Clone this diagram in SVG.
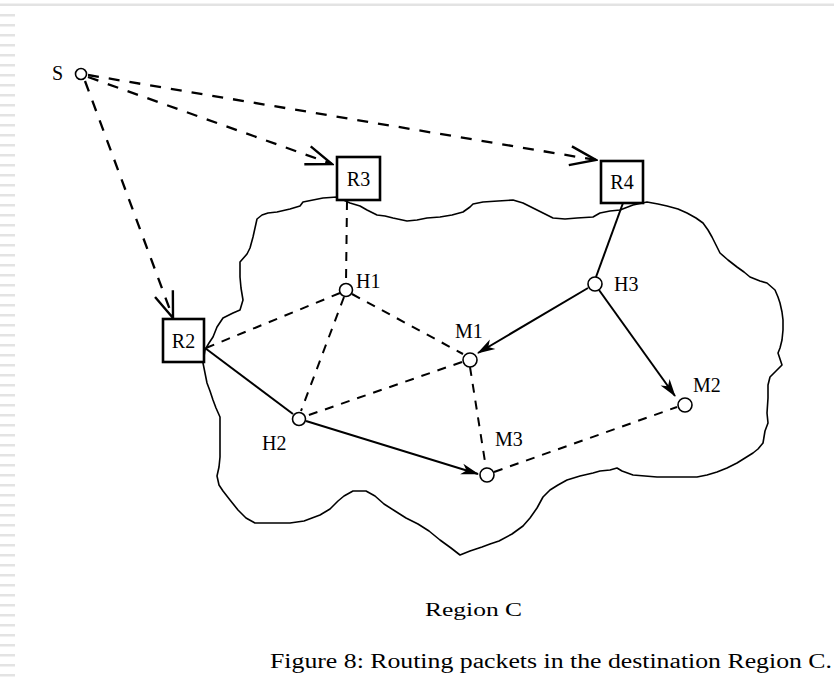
<svg xmlns="http://www.w3.org/2000/svg" width="834" height="681" viewBox="0 0 834 681">
<style>
  text { font-family: "Liberation Serif", "Times New Roman", serif; fill: #000; }
  .lbl { font-size: 20px; }
  .node { fill: #fff; stroke: #000; stroke-width: 1.6; }
  .box { fill: #fff; stroke: #000; stroke-width: 2.6; }
  .dash { fill: none; stroke: #000; stroke-width: 2; stroke-dasharray: 9 8; }
  .sdash { fill: none; stroke: #000; stroke-width: 2.3; stroke-dasharray: 11 10; }
  .solid { fill: none; stroke: #000; stroke-width: 2; }
  .outline { fill: none; stroke: #000; stroke-width: 1.6; stroke-linejoin: round; }
  .bar { fill: #e3e3e3; }
</style>
<defs>
  <marker id="open" viewBox="-30 -12 32 24" refX="0" refY="0" markerWidth="32" markerHeight="24" markerUnits="userSpaceOnUse" orient="auto">
    <path d="M-26,-9.5 L0,0 L-26,9.5" fill="none" stroke="#000" stroke-width="2.4" stroke-dasharray="none"/>
  </marker>
  <marker id="fill" viewBox="-20 -8 22 16" refX="0" refY="0" markerWidth="22" markerHeight="16" markerUnits="userSpaceOnUse" orient="auto">
    <path d="M1,0 L-17,-5.5 L-12,0 L-17,5.5 Z" fill="#000" stroke="none"/>
  </marker>
</defs>
<rect width="834" height="681" fill="#fff"/>
<g id="page-edge">
  <rect x="0" y="3.5" width="834" height="2.5" class="bar"/>
  <g class="bar">
    <rect x="0" y="14" width="15" height="2.5"/><rect x="0" y="24" width="15" height="2.5"/><rect x="0" y="34" width="15" height="2.5"/><rect x="0" y="44" width="15" height="2.5"/><rect x="0" y="54" width="15" height="2.5"/><rect x="0" y="64" width="15" height="2.5"/><rect x="0" y="74" width="15" height="2.5"/><rect x="0" y="84" width="15" height="2.5"/><rect x="0" y="94" width="15" height="2.5"/><rect x="0" y="104" width="15" height="2.5"/>
    <rect x="0" y="114" width="15" height="2.5"/><rect x="0" y="124" width="15" height="2.5"/><rect x="0" y="134" width="15" height="2.5"/><rect x="0" y="144" width="15" height="2.5"/><rect x="0" y="154" width="15" height="2.5"/><rect x="0" y="164" width="15" height="2.5"/><rect x="0" y="174" width="15" height="2.5"/><rect x="0" y="184" width="15" height="2.5"/><rect x="0" y="194" width="15" height="2.5"/><rect x="0" y="204" width="15" height="2.5"/>
    <rect x="0" y="214" width="15" height="2.5"/><rect x="0" y="224" width="15" height="2.5"/><rect x="0" y="234" width="15" height="2.5"/><rect x="0" y="244" width="15" height="2.5"/><rect x="0" y="254" width="15" height="2.5"/><rect x="0" y="264" width="15" height="2.5"/><rect x="0" y="274" width="15" height="2.5"/><rect x="0" y="284" width="15" height="2.5"/><rect x="0" y="294" width="15" height="2.5"/><rect x="0" y="304" width="15" height="2.5"/>
    <rect x="0" y="314" width="15" height="2.5"/><rect x="0" y="324" width="15" height="2.5"/><rect x="0" y="334" width="15" height="2.5"/><rect x="0" y="344" width="15" height="2.5"/><rect x="0" y="354" width="15" height="2.5"/><rect x="0" y="364" width="15" height="2.5"/><rect x="0" y="374" width="15" height="2.5"/><rect x="0" y="384" width="15" height="2.5"/><rect x="0" y="394" width="15" height="2.5"/><rect x="0" y="404" width="15" height="2.5"/>
    <rect x="0" y="414" width="15" height="2.5"/><rect x="0" y="424" width="15" height="2.5"/><rect x="0" y="434" width="15" height="2.5"/><rect x="0" y="444" width="15" height="2.5"/><rect x="0" y="454" width="15" height="2.5"/><rect x="0" y="464" width="15" height="2.5"/><rect x="0" y="474" width="15" height="2.5"/><rect x="0" y="484" width="15" height="2.5"/><rect x="0" y="494" width="15" height="2.5"/><rect x="0" y="504" width="15" height="2.5"/>
    <rect x="0" y="514" width="15" height="2.5"/><rect x="0" y="524" width="15" height="2.5"/><rect x="0" y="534" width="15" height="2.5"/><rect x="0" y="544" width="15" height="2.5"/><rect x="0" y="554" width="15" height="2.5"/><rect x="0" y="564" width="15" height="2.5"/><rect x="0" y="574" width="15" height="2.5"/><rect x="0" y="584" width="15" height="2.5"/><rect x="0" y="594" width="15" height="2.5"/><rect x="0" y="604" width="15" height="2.5"/>
    <rect x="0" y="614" width="15" height="2.5"/><rect x="0" y="624" width="15" height="2.5"/><rect x="0" y="634" width="15" height="2.5"/><rect x="0" y="644" width="15" height="2.5"/><rect x="0" y="654" width="15" height="2.5"/><rect x="0" y="664" width="15" height="2.5"/><rect x="0" y="674" width="15" height="2.5"/>
  </g>
</g>
<g id="region-c">
  <path class="outline" d="M205,350 L209,343 L213,337 L217,327 L223,318 L233,313 L240,310 L243,300 L241,288 L240,277 L240,262 L247,254 L250,248 L253,237 L255,228 L257,219 L262,215 L268,213 L277,212 L290,209 L300,206 L303,202 L313,200 L323,198 L337,197 L350,203 L360,206 L367,210 L377,215 L385,216 L393,218 L407,221 L417,220 L427,218 L440,217 L452,215 L463,212 L470,207 L473,204 L483,202 L498,201 L513,200 L523,203 L533,208 L543,213 L553,218 L565,219 L577,218 L593,217 L600,213 L610,211 L620,210 L633,205 L647,202 L658,204 L667,206 L678,209 L687,213 L696,218 L703,223 L708,230 L712,237 L716,245 L720,253 L728,260 L737,267 L744,272 L750,277 L760,281 L767,283 L775,290 L778,297 L780,303 L782,312 L783,320 L783,330 L782,340 L780,348 L778,353 L782,365 L776,371 L770,377 L768,385 L768,398 L767,413 L768,423 L765,431 L763,443 L758,449 L753,453 L745,458 L737,463 L727,468 L717,472 L707,475 L697,477 L677,477 L657,477 L645,476 L633,475 L622,471 L617,468 L610,470 L600,471 L593,473 L580,476 L567,480 L558,485 L550,490 L543,497 L537,508 L530,518 L523,526 L512,534 L499,541 L490,544 L482,547 L470,551 L460,555 L451,548 L440,540 L429,531 L418,524 L406,518 L395,511 L384,504 L375,496 L366,491 L353,491 L344,496 L338,501 L330,509 L320,515 L304,521 L290,523 L277,523 L266,523 L255,523 L246,518 L238,510 L230,500 L223,491 L219,485 L217,476 L219,467 L220,457 L220,447 L220,437 L220,427 L220,417 L216,408 L213,400 L210,391 L207,383 L205,373 L203,363 Z"/>
</g>
<g id="connectors">
  <line class="sdash" x1="88" y1="75" x2="596" y2="160" marker-end="url(#open)"/>
  <line class="sdash" x1="88" y1="77" x2="332" y2="164" marker-end="url(#open)"/>
  <line class="sdash" x1="85" y1="81" x2="173" y2="318" marker-end="url(#open)"/>
  <line class="dash" x1="347" y1="201" x2="346" y2="283"/>
  <line class="dash" x1="340" y1="293" x2="206" y2="348"/>
  <line class="dash" x1="344" y1="297" x2="301" y2="411"/>
  <line class="dash" x1="352" y1="294" x2="463" y2="354"/>
  <line class="dash" x1="462" y1="362" x2="306" y2="416"/>
  <line class="dash" x1="470" y1="367" x2="486" y2="468"/>
  <line class="dash" x1="494" y1="472" x2="677" y2="407"/>
  <line class="solid" x1="623" y1="203" x2="596" y2="277"/>
  <line class="solid" x1="588" y1="288" x2="478" y2="353" marker-end="url(#fill)"/>
  <line class="solid" x1="599" y1="290" x2="675" y2="396" marker-end="url(#fill)"/>
  <line class="solid" x1="205" y1="348" x2="293" y2="414"/>
  <line class="solid" x1="306" y1="421" x2="478" y2="474" marker-end="url(#fill)"/>
</g>
<g id="S">
  <circle class="node" cx="81" cy="74" r="5.5"/>
  <text class="lbl" x="52" y="80">S</text>
</g>
<g id="R3">
  <rect class="box" x="337" y="157" width="43" height="43"/>
  <text class="lbl" x="358.5" y="186" text-anchor="middle">R3</text>
</g>
<g id="R4">
  <rect class="box" x="601" y="161" width="42" height="42"/>
  <text class="lbl" x="622" y="189" text-anchor="middle">R4</text>
</g>
<g id="R2">
  <rect class="box" x="163" y="319" width="41" height="43"/>
  <text class="lbl" x="183.5" y="348" text-anchor="middle">R2</text>
</g>
<g id="H1">
  <circle class="node" cx="346" cy="290" r="6.5"/>
  <text class="lbl" x="356" y="288">H1</text>
</g>
<g id="H2">
  <circle class="node" cx="299" cy="419" r="6.5"/>
  <text class="lbl" x="262" y="450">H2</text>
</g>
<g id="H3">
  <circle class="node" cx="595" cy="284" r="7"/>
  <text class="lbl" x="614" y="291">H3</text>
</g>
<g id="M1">
  <circle class="node" cx="470" cy="360" r="7"/>
  <text class="lbl" x="455" y="338">M1</text>
</g>
<g id="M2">
  <circle class="node" cx="685" cy="405" r="7"/>
  <text class="lbl" x="693" y="392">M2</text>
</g>
<g id="M3">
  <circle class="node" cx="487" cy="475" r="7"/>
  <text class="lbl" x="495" y="446">M3</text>
</g>
<g id="labels">
  <text x="425" y="616" font-size="19" textLength="97" lengthAdjust="spacingAndGlyphs">Region C</text>
  <text x="270" y="668" font-size="20" textLength="562" lengthAdjust="spacingAndGlyphs">Figure 8: Routing packets in the destination Region C.</text>
</g>
</svg>
